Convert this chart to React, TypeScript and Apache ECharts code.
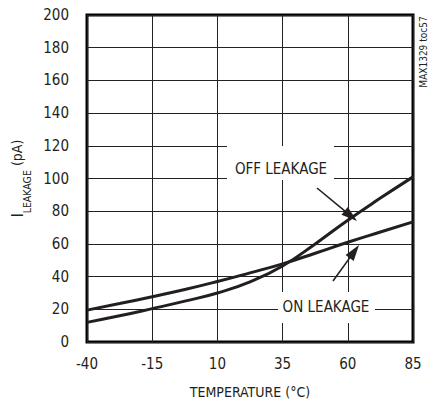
import React, { useEffect, useRef } from "react";
import * as echarts from "echarts";

const offTemp = [-40, -27.5, -15, -2.5, 10, 22.5, 35, 47.5, 60, 72.5, 85];
const offLeak = [12, 16, 20.4, 25, 30, 36.8, 46.5, 60, 74.5, 88, 101];
const onTemp = [-40, -27.5, -15, -2.5, 10, 22.5, 35, 47.5, 60, 72.5, 85];
const onLeak = [19.5, 23.5, 27.7, 32.1, 37, 42.3, 47.8, 54.3, 61, 67.3, 73.5];

const X0 = -40;
const FONT = "'DejaVu Sans Condensed', 'Liberation Sans Narrow', 'Liberation Sans', Arial, sans-serif";
const INK = "#231f20";

function arrow(sx: number, sy: number, tx: number, ty: number, len: number, w: number) {
  const dx = tx - sx, dy = ty - sy;
  const d = Math.sqrt(dx * dx + dy * dy);
  const ux = dx / d, uy = dy / d;
  const bx = tx - ux * len, by = ty - uy * len;
  const px = -uy * w / 2, py = ux * w / 2;
  return [
    { type: "line", z: 102, shape: { x1: sx, y1: sy, x2: bx + ux * 2, y2: by + uy * 2 }, style: { stroke: INK, lineWidth: 1.6 } },
    { type: "polygon", z: 102, shape: { points: [[tx, ty], [bx + px, by + py], [bx - px, by - py]] }, style: { fill: INK } },
  ];
}

export default function App() {
  const ref = useRef<HTMLDivElement>(null);
  useEffect(() => {
    const chart = echarts.init(ref.current!, null, { renderer: "svg" });
    chart.setOption({
      animation: false,
      textStyle: { fontFamily: FONT },
      grid: { left: 87, right: 16, top: 15, bottom: 62, show: true, borderWidth: 3, borderColor: "#000", containLabel: false },
      xAxis: {
        type: "value",
        min: 0,
        max: 125,
        interval: 25,
        axisLine: { show: false },
        axisTick: { show: false },
        splitLine: { show: true, lineStyle: { color: "#222", width: 1 } },
        axisLabel: { formatter: (v: number) => String(v + X0), fontSize: 15, color: INK, margin: 14, fontFamily: FONT },
        name: "TEMPERATURE (°C)",
        nameLocation: "middle",
        nameGap: 43,
        nameTextStyle: { fontSize: 14, color: INK, fontFamily: FONT },
      },
      yAxis: {
        type: "value",
        min: 0,
        max: 200,
        interval: 20,
        axisLine: { show: false },
        axisTick: { show: false },
        splitLine: { show: true, lineStyle: { color: "#222", width: 1 } },
        axisLabel: { fontSize: 15, color: INK, margin: 18, fontFamily: FONT },
        name: "{i|I}{sub|LEAKAGE}{n| (pA)}",
        nameLocation: "middle",
        nameGap: 50,
        nameTextStyle: {
          color: INK,
          fontFamily: FONT,
          rich: {
            i: { fontSize: 15, color: INK, fontFamily: FONT, lineHeight: 22, verticalAlign: "top" },
            sub: { fontSize: 10.5, color: INK, fontFamily: FONT, lineHeight: 22, verticalAlign: "bottom" },
            n: { fontSize: 14, color: INK, fontFamily: FONT, lineHeight: 22, verticalAlign: "top" },
          },
        },
      },
      series: [
        {
          type: "line",
          name: "OFF LEAKAGE",
          smooth: 0.5,
          showSymbol: false,
          data: offTemp.map((t, i) => [t - X0, offLeak[i]]),
          lineStyle: { color: INK, width: 3 },
          z: 10,
        },
        {
          type: "line",
          name: "ON LEAKAGE",
          smooth: 0.5,
          showSymbol: false,
          data: onTemp.map((t, i) => [t - X0, onLeak[i]]),
          lineStyle: { color: INK, width: 3 },
          z: 10,
        },
      ],
      graphic: {
        elements: [
          { type: "rect", z: 100, shape: { x: 227, y: 146, width: 107, height: 34 }, style: { fill: "#ffffff", stroke: "none" } },
          { type: "text", z: 101, x: 281, y: 169, style: { text: "OFF LEAKAGE", fontSize: 15, fontFamily: FONT, fill: INK, align: "center", verticalAlign: "middle" } },
          { type: "rect", z: 100, shape: { x: 278, y: 292, width: 97, height: 31 }, style: { fill: "#ffffff", stroke: "none" } },
          { type: "text", z: 101, x: 326, y: 307, style: { text: "ON LEAKAGE", fontSize: 15, fontFamily: FONT, fill: INK, align: "center", verticalAlign: "middle" } },
          ...arrow(317, 188, 357, 221, 16, 10),
          ...arrow(333, 281, 359, 245, 16, 10),
          { type: "text", z: 101, x: 423, y: 52, rotation: Math.PI / 2, style: { text: "MAX1329 toc57", fontSize: 10, fontFamily: FONT, fill: INK, align: "center", verticalAlign: "middle" } },
        ],
      },
    });
    return () => chart.dispose();
  }, []);
  return <div ref={ref} style={{ width: 429, height: 404, position: "absolute", left: 0, top: 0, background: "#fff" }} />;
}
